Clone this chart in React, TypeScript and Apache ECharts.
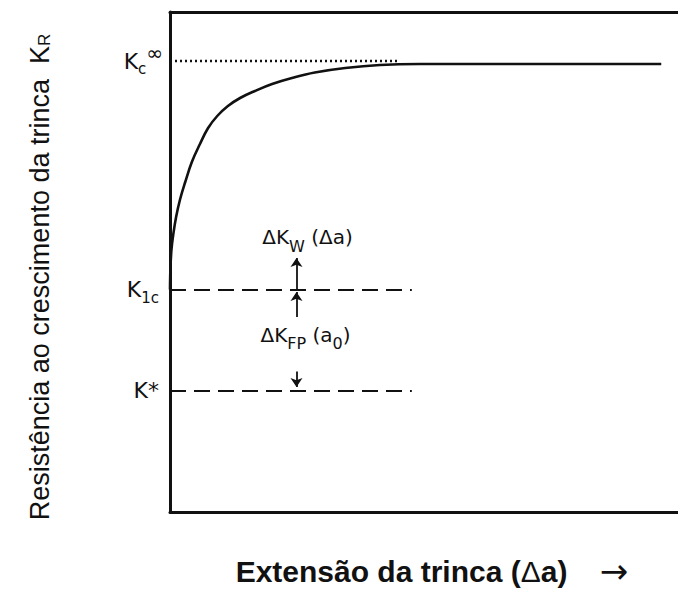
import React, { useEffect, useRef } from "react";
import * as echarts from "echarts";

// R-curve: crack growth resistance K_R against crack extension Δa (arbitrary units, 0–100)
const crackExtension = [0, 0.1, 0.3, 0.6, 1.2, 2, 3, 4.3, 5.9, 7.5, 9.3, 11.4, 13.8, 16.7, 20.1, 24, 28.5, 34.5, 41.3, 49.2, 96.7];
const resistance = [44.5, 49.2, 52.6, 55.2, 59, 62.6, 66, 70, 73.6, 76.8, 79.2, 81.2, 82.8, 84.2, 85.6, 86.8, 87.9, 88.8, 89.4, 89.6, 89.6];

// Reference toughness levels
const levelKeys = ["kinf", "k1c", "kstar"];
const levelValues = [90.2, 44.5, 24.3];
const levelEnds = [45, 47.6, 47.6];

// Toughness increments, marked with arrows at one crack extension
const arrowX = 24.9;
const wakeArrow = [44.5, 50.8]; // ΔK_W(Δa), pointing up from K1c
const lowerArrow = [39.0, 44.0]; // pointing up to K1c
const fpArrow = [28.1, 25.0]; // ΔK_FP(a0), pointing down to K*

const INK = "#111";
const ANNOT_FONT = "DejaVu Sans";

const levelLabelText: Record<string, string> = {
  kinf: "{k|K}{sub|c}{sup|∞}",
  k1c: "{k|K}{sub|1c}",
  kstar: "{k|K*}",
};

const levelRich = {
  k: { fontFamily: ANNOT_FONT, fontSize: 22, color: INK },
  sub: { fontFamily: ANNOT_FONT, fontSize: 15, color: INK, padding: [16, 0, 0, 0] },
  sup: { fontFamily: ANNOT_FONT, fontSize: 20, color: INK, padding: [0, 0, 17, 0] },
};

const deltaRich = {
  d: { fontFamily: ANNOT_FONT, fontSize: 20, color: INK },
  s: { fontFamily: ANNOT_FONT, fontSize: 16, color: INK, padding: [18, 0, 0, 0] },
};

export default function App() {
  const ref = useRef<HTMLDivElement | null>(null);

  useEffect(() => {
    if (!ref.current) return;
    const chart = echarts.init(ref.current, undefined, { renderer: "svg" });

    const levelLines = levelKeys.map((key, i) => {
      const dotted = key === "kinf";
      return [
        {
          coord: [0, levelValues[i]],
          lineStyle: {
            color: INK,
            width: dotted ? 2.4 : 2.2,
            type: dotted ? [2, 3] : [16, 8],
          },
          label: {
            show: true,
            position: "start",
            distance: dotted ? 7 : 11,
            formatter: levelLabelText[key],
            rich: levelRich,
          },
        },
        { coord: [levelEnds[i], levelValues[i]] },
      ];
    });

    const arrowLine = (range: number[], label?: object) => [
      { coord: [arrowX, range[0]], symbol: "none", ...(label ? { label } : {}) },
      { coord: [arrowX, range[1]], symbol: "arrow", symbolSize: 9 },
    ];

    chart.setOption({
      animation: false,
      backgroundColor: "#fff",
      grid: { left: 170, right: 0, top: 12, bottom: 78 },
      xAxis: [
        {
          type: "value",
          min: 0,
          max: 100,
          position: "bottom",
          axisLine: { show: true, lineStyle: { color: INK, width: 3 } },
          axisTick: { show: false },
          axisLabel: { show: false },
          splitLine: { show: false },
        },
        {
          type: "value",
          min: 0,
          max: 100,
          position: "top",
          axisLine: { show: true, lineStyle: { color: INK, width: 3 } },
          axisTick: { show: false },
          axisLabel: { show: false },
          splitLine: { show: false },
        },
      ],
      yAxis: {
        type: "value",
        min: 0,
        max: 100,
        axisLine: { show: true, lineStyle: { color: INK, width: 3 } },
        axisTick: { show: false },
        axisLabel: { show: false },
        splitLine: { show: false },
      },
      series: [
        {
          name: "K_R",
          type: "line",
          data: crackExtension.map((x, i) => [x, resistance[i]]),
          smooth: 0.4,
          symbol: "none",
          lineStyle: { color: INK, width: 2.6 },
          z: 3,
        },
        {
          name: "levels",
          type: "line",
          data: [],
          markLine: {
            silent: true,
            symbol: "none",
            data: levelLines,
          },
        },
        {
          name: "increments",
          type: "line",
          data: [],
          markLine: {
            silent: true,
            symbol: ["none", "arrow"],
            symbolSize: 9,
            itemStyle: { color: INK },
            lineStyle: { color: INK, width: 1.8, type: "solid" },
            label: { show: false },
            data: [
              arrowLine(wakeArrow, {
                show: true,
                position: "end",
                distance: 4,
                padding: [0, 0, 0, 22],
                formatter: "{d|ΔK}{s|W}{d| (Δa)}",
                rich: deltaRich,
              }),
              arrowLine(lowerArrow),
              arrowLine(fpArrow, {
                show: true,
                position: "start",
                distance: 20,
                padding: [0, 0, 0, 18],
                formatter: "{d|ΔK}{s|FP}{d| (a}{s|0}{d|)}",
                rich: deltaRich,
              }),
            ],
          },
        },
      ],
      graphic: [
        {
          type: "text",
          x: 432,
          y: 571,
          style: {
            text: "{b|Extensão da trinca (}{n|Δ}{b|a)}{a|   →}",
            align: "center",
            verticalAlign: "middle",
            textAlign: "center",
            textVerticalAlign: "middle",
            fill: INK,
            rich: {
              b: { fontFamily: "Liberation Sans", fontWeight: "bold", fontSize: 30, fill: INK },
              n: { fontFamily: "Liberation Sans", fontSize: 30, fill: INK },
              a: { fontFamily: "DejaVu Sans", fontSize: 34, fill: INK },
            },
          },
        },
        {
          type: "text",
          x: 40,
          y: 277,
          rotation: Math.PI / 2,
          style: {
            text: "{m|Resistência ao crescimento da trinca  K}{s|R}",
            align: "center",
            verticalAlign: "middle",
            textAlign: "center",
            textVerticalAlign: "middle",
            fill: INK,
            rich: {
              m: { fontFamily: "Liberation Sans", fontSize: 27, fill: INK },
              s: { fontFamily: "Liberation Sans", fontSize: 17, fill: INK, padding: [9, 0, 0, 0] },
            },
          },
        },
      ],
    });

    return () => chart.dispose();
  }, []);

  return (
    <div
      ref={ref}
      style={{ position: "absolute", left: 0, top: 0, width: 678, height: 590, background: "#fff" }}
    />
  );
}
